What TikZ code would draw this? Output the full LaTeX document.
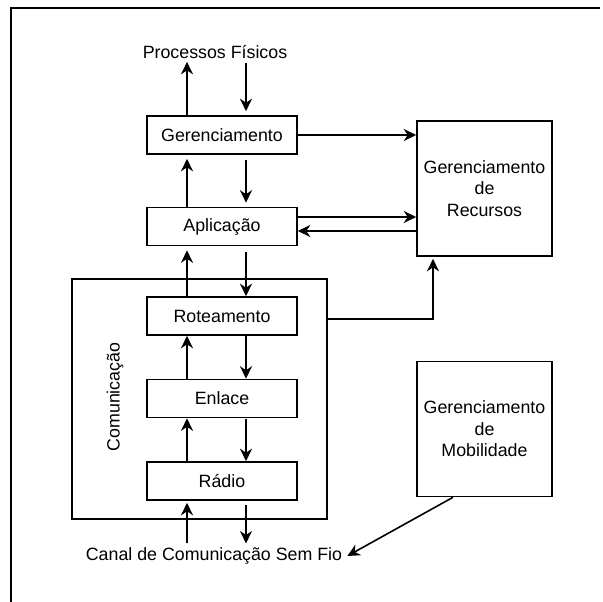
\documentclass[tikz,border=0pt]{standalone}
\usepackage{fontspec}
\setmainfont{Liberation Sans}
\usetikzlibrary{arrows.meta,calc}
\begin{document}
\begin{tikzpicture}[x=1pt,y=-1pt,
  every node/.style={font=\fontsize{17.8}{21.5}\selectfont, inner sep=2pt},
  layer/.style={draw, line width=1.6pt, minimum width=150pt, minimum height=38pt, inner sep=0pt},
  bigbox/.style={draw, line width=1.6pt, minimum width=135pt, minimum height=135pt, align=center, inner sep=0pt},
  arr/.style={line width=1.6pt, -{Stealth[length=12.5pt,width=12pt,inset=4pt]}},
  plain/.style={line width=1.5pt}]
\useasboundingbox (0,0) rectangle (603,602);
% frame
\draw[plain] (11,602) -- (11,8) -- (600,8);
% helper coordinates for connector lanes
\coordinate (xu) at (187,0);
\coordinate (xd) at (246,0);
\coordinate (xr) at (433,0);
\coordinate (xm) at (453,0);
\coordinate (ya) at (0,217);
\coordinate (yb) at (0,231);
\coordinate (yc) at (0,319);
% container
\node[draw, line width=1.6pt, minimum width=255pt, minimum height=240pt, inner sep=0pt] (com) at (199.5,399) {};
\node[rotate=90] (comlbl) at (115,397) {Comunicação};
% layers
\node[layer] (ger) at (222,135) {Gerenciamento};
\node[layer] (apl) at (222,226.5) {Aplicação};
\node[layer] (rot) at (222,316) {Roteamento};
\node[layer] (enl) at (222,398.5) {Enlace};
\node[layer] (rad) at (222,481) {Rádio};
% side boxes
\node[bigbox] (rec) at (484.5,188.5) {Gerenciamento\\de\\Recursos};
\node[bigbox] (mob) at (484.5,429) {Gerenciamento\\de\\Mobilidade};
% texts
\node (proc) at (215,52) {Processos Físicos};
\node (canal) at (214,556) {Canal de Comunicação Sem Fio};
% vertical arrows
\draw[arr, shorten >=1pt] (ger.north -| xu) -- (proc.south -| xu);
\draw[arr, shorten <=2pt, shorten >=4pt] (proc.south -| xd) -- (ger.north -| xd);
\draw[arr, shorten >=4pt] (apl.north -| xu) -- (ger.south -| xu);
\draw[arr, shorten <=5pt, shorten >=4pt] (ger.south -| xd) -- (apl.north -| xd);
\draw[arr, shorten >=4pt] (rot.north -| xu) -- (apl.south -| xu);
\draw[arr, shorten <=6pt] (apl.south -| xd) -- (rot.north -| xd);
\draw[arr] (enl.north -| xu) -- (rot.south -| xu);
\draw[arr] (rot.south -| xd) -- (enl.north -| xd);
\draw[arr] (rad.north -| xu) -- (enl.south -| xu);
\draw[arr, shorten <=1pt] (enl.south -| xd) -- (rad.north -| xd);
\draw[arr, shorten <=2pt, shorten >=2pt] (canal.north -| xu) -- (rad.south -| xu);
\draw[arr, shorten <=4pt, shorten >=2pt] (rad.south -| xd) -- (canal.north -| xd);
% horizontal arrows
\draw[arr] (ger.east) -- (ger.east -| rec.west);
\draw[arr] (apl.east |- ya) -- (rec.west |- ya);
\draw[arr] (rec.west |- yb) -- (apl.east |- yb);
\draw[arr, shorten >=2pt] (com.east |- yc) -| (rec.south -| xr);
\draw[arr] (mob.south -| xm) -- ([xshift=3pt]canal.east);
\end{tikzpicture}
\end{document}
